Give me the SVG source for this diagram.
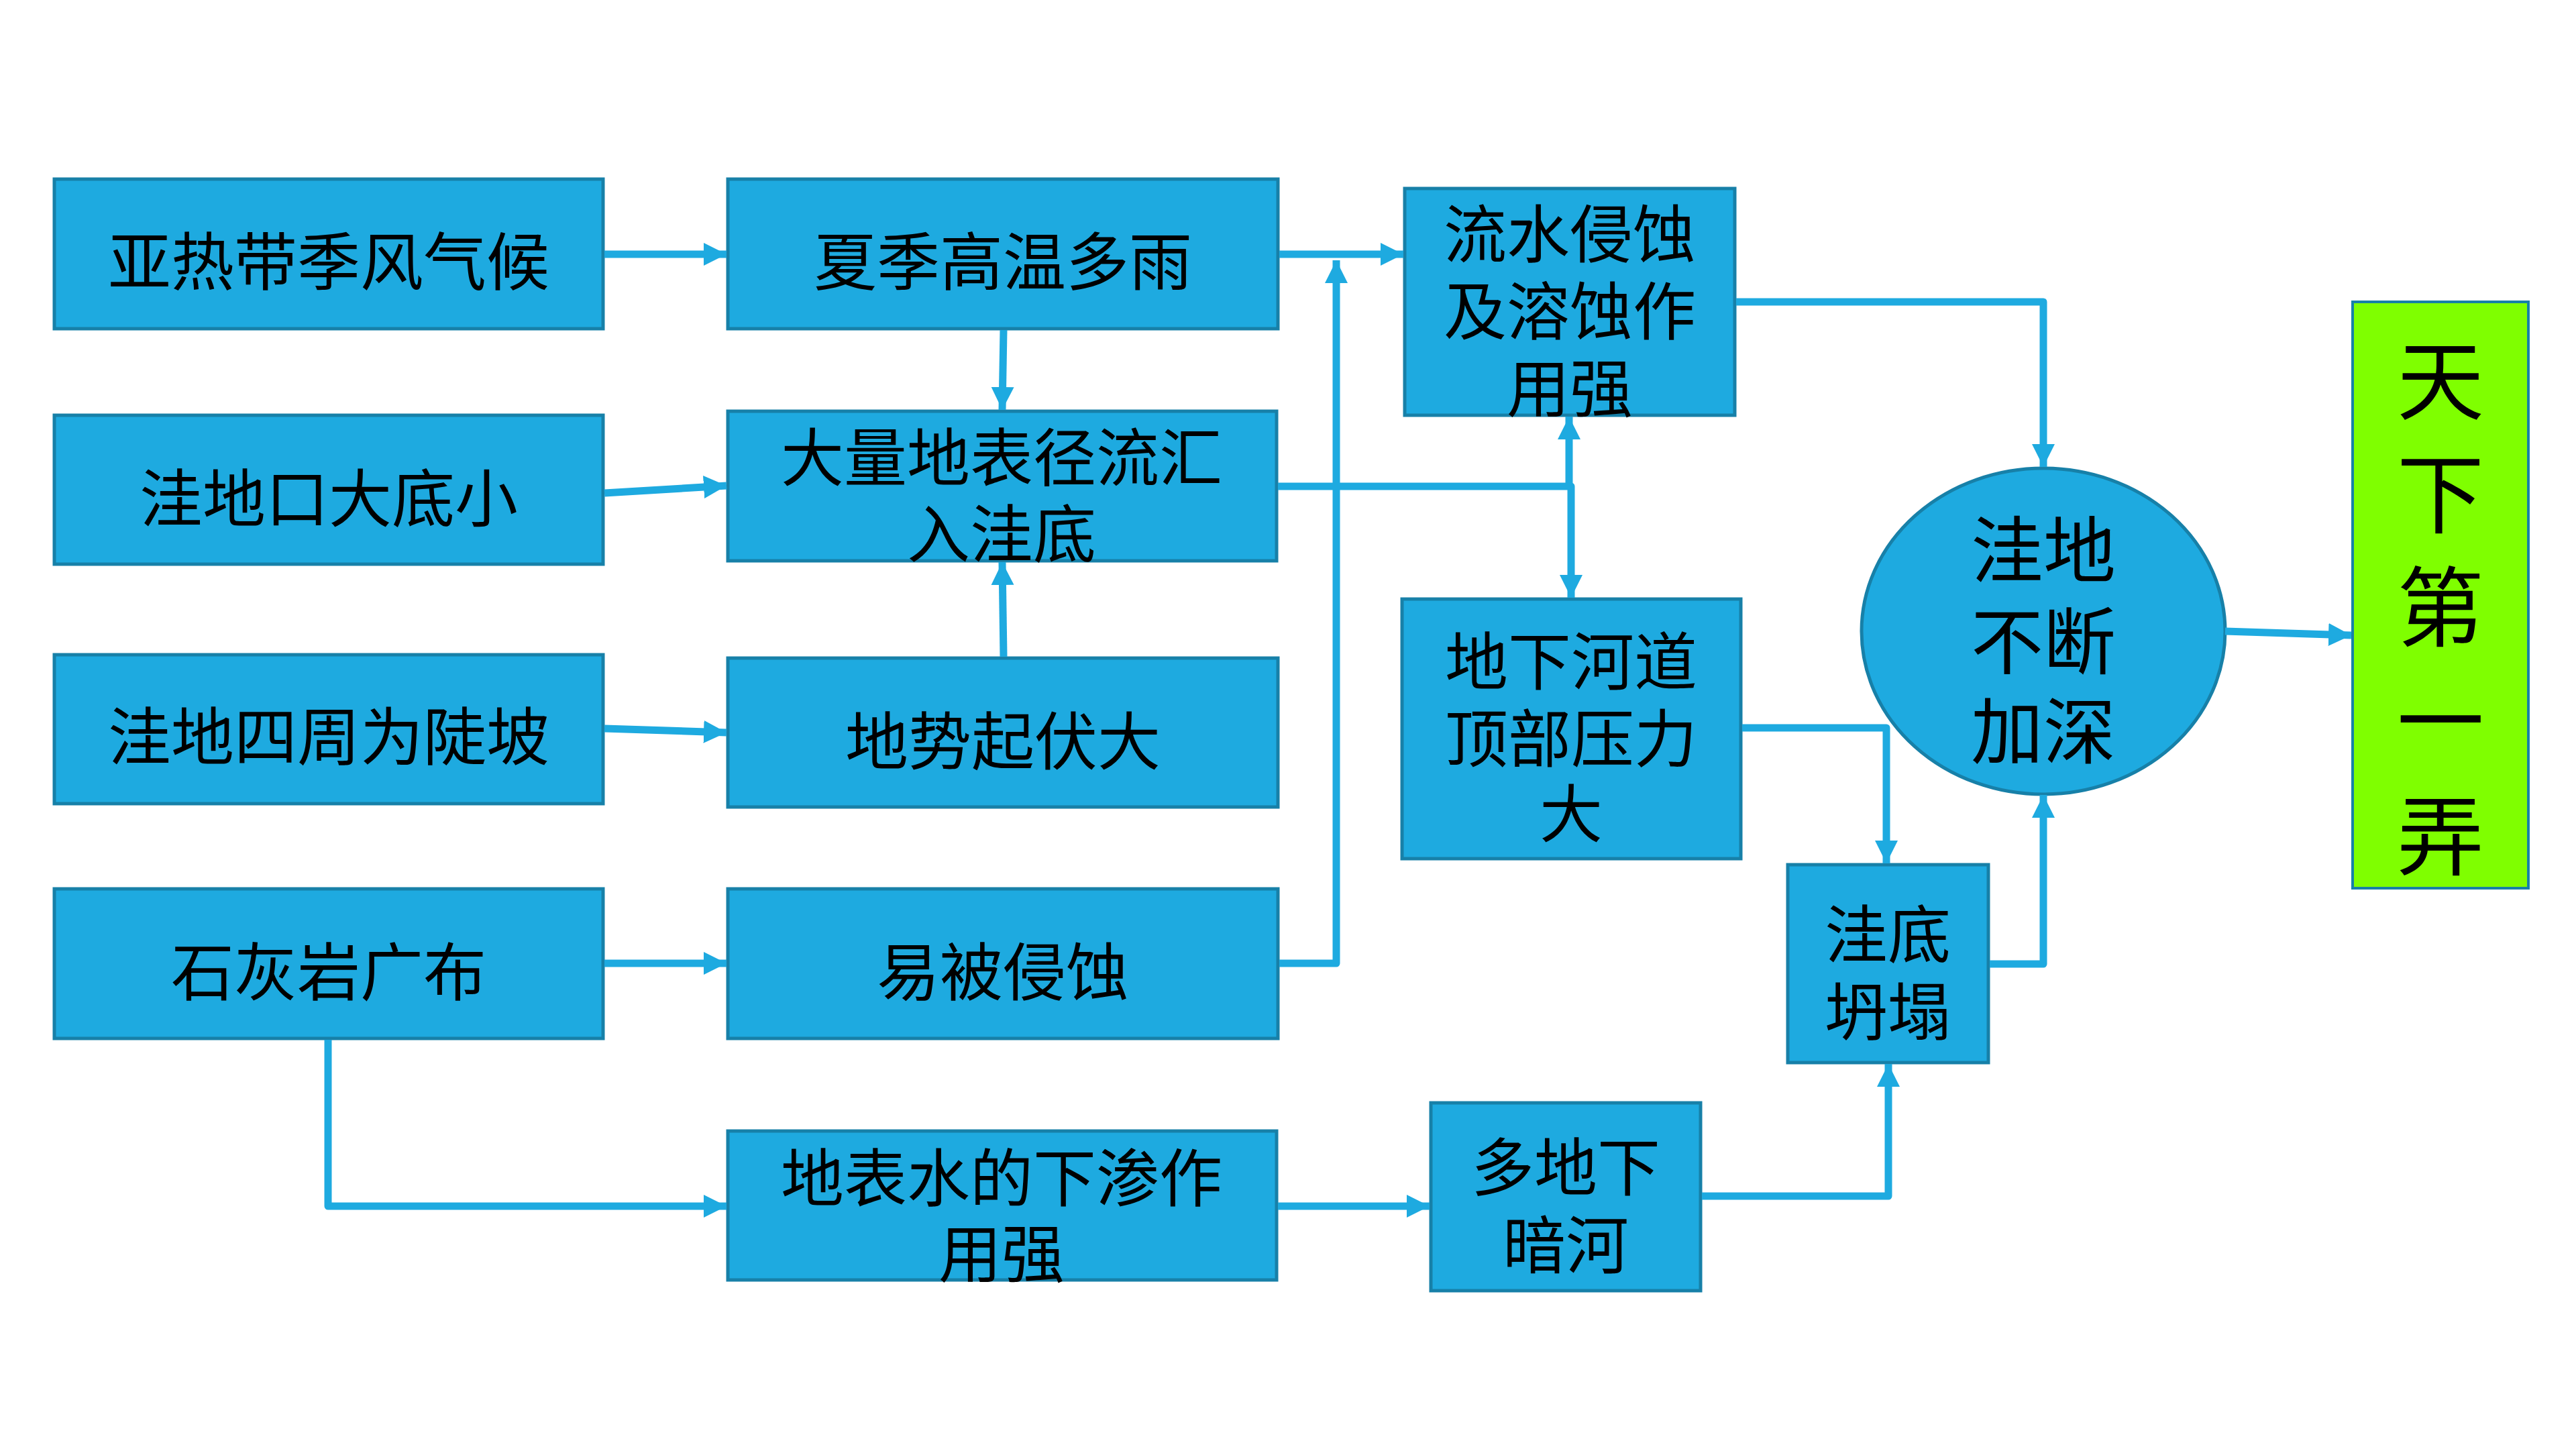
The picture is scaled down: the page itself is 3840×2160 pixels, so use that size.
<svg xmlns="http://www.w3.org/2000/svg" width="3840" height="2160" viewBox="0 0 3840 2160">
<defs>
<marker id="ah" markerUnits="userSpaceOnUse" markerWidth="36" markerHeight="36" refX="34" refY="17" orient="auto" viewBox="0 0 36 36">
<path d="M0,0 L34,17 L0,34 z" fill="#1EAAE0"/>
</marker>
</defs>
<style>
.box{fill:#1EAAE0;stroke:#1780A8;stroke-width:5}
.green{fill:#7FFF00;stroke:#1780A8;stroke-width:4}
.t{font-family:"Noto Sans CJK SC","Noto Sans",sans-serif;font-size:94px;fill:#000;text-anchor:middle;dominant-baseline:central}
.tb{font-size:108px}
.tg{font-size:130px}
.c{fill:none;stroke:#1EAAE0;stroke-width:11;marker-end:url(#ah)}
</style>
<rect width="3840" height="2160" fill="#fff"/>
<g id="n1"><rect class="box" x="81" y="267" width="818" height="223"/><text class="t" x="490" y="384">亚热带季风气候</text></g>
<g id="n2"><rect class="box" x="1085" y="267" width="820" height="223"/><text class="t" x="1495" y="384">夏季高温多雨</text></g>
<g id="n3"><rect class="box" x="81" y="619" width="818" height="222"/><text class="t" x="490" y="737">洼地口大底小</text></g>
<g id="n4"><rect class="box" x="1085" y="613" width="818" height="223"/><text class="t" x="1493" y="676">大量地表径流汇<tspan x="1493" y="790">入洼底</tspan></text></g>
<g id="n5"><rect class="box" x="81" y="976" width="818" height="222"/><text class="t" x="490" y="1092">洼地四周为陡坡</text></g>
<g id="n6"><rect class="box" x="1085" y="981" width="820" height="222"/><text class="t" x="1495" y="1099">地势起伏大</text></g>
<g id="n7"><rect class="box" x="81" y="1325" width="818" height="223"/><text class="t" x="490" y="1443">石灰岩广布</text></g>
<g id="n8"><rect class="box" x="1085" y="1325" width="820" height="223"/><text class="t" x="1495" y="1443">易被侵蚀</text></g>
<g id="n9"><rect class="box" x="1085" y="1686" width="818" height="222"/><text class="t" x="1493" y="1750">地表水的下渗作<tspan x="1493" y="1863">用强</tspan></text></g>
<g id="n10"><rect class="box" x="2094" y="281" width="492" height="338"/><text class="t" x="2340" y="343">流水侵蚀<tspan x="2340" y="458">及溶蚀作</tspan><tspan x="2340" y="573">用强</tspan></text></g>
<g id="n11"><rect class="box" x="2090" y="893" width="505" height="387"/><text class="t" x="2342" y="980">地下河道<tspan x="2342" y="1095">顶部压力</tspan><tspan x="2342" y="1207">大</tspan></text></g>
<g id="n12"><rect class="box" x="2133" y="1644" width="402" height="280"/><text class="t" x="2334" y="1734">多地下<tspan x="2334" y="1850">暗河</tspan></text></g>
<g id="n13"><rect class="box" x="2665" y="1289" width="299" height="295"/><text class="t" x="2814" y="1387">洼底<tspan x="2814" y="1502">坍塌</tspan></text></g>
<g id="n14"><ellipse class="box" cx="3046" cy="941" rx="271" ry="243"/><text class="t tb" x="3046" y="813">洼地<tspan x="3046" y="949">不断</tspan><tspan x="3046" y="1083">加深</tspan></text></g>
<g id="n15"><rect class="green" x="3507" y="450" width="262" height="874"/><text class="t tg" x="3638" y="558">天<tspan x="3638" y="727">下</tspan><tspan x="3638" y="896">第</tspan><tspan x="3638" y="1065">一</tspan><tspan x="3638" y="1237">弄</tspan></text></g>
<g id="connectors">
<path class="c" d="M901,379 H1083"/>
<path class="c" d="M1496,492 L1494,611"/>
<path class="c" d="M901,735 L1083,724"/>
<path class="c" d="M1496,979 L1494,838"/>
<path class="c" d="M901,1086 L1083,1092"/>
<path class="c" d="M901,1436 H1083"/>
<path class="c" d="M489,1550 V1798 H1083" stroke-linejoin="round"/>
<path class="c" d="M1907,1436 H1992 V388" stroke-linejoin="round"/>
<path class="c" d="M1907,379 H2092"/>
<path class="c" d="M1905,725 H2339 V621" stroke-linejoin="round"/>
<path class="c" d="M2339,725 H2342 V891" stroke-linejoin="round"/>
<path class="c" d="M2588,450 H3046 V696" stroke-linejoin="round"/>
<path class="c" d="M2597,1085 H2812 V1287" stroke-linejoin="round"/>
<path class="c" d="M2537,1783 H2815 V1586" stroke-linejoin="round"/>
<path class="c" d="M2966,1437 H3046 V1185" stroke-linejoin="round"/>
<path class="c" d="M3317,941 L3505,947"/>
<path class="c" d="M1905,1798 H2131"/>
</g>
</svg>
